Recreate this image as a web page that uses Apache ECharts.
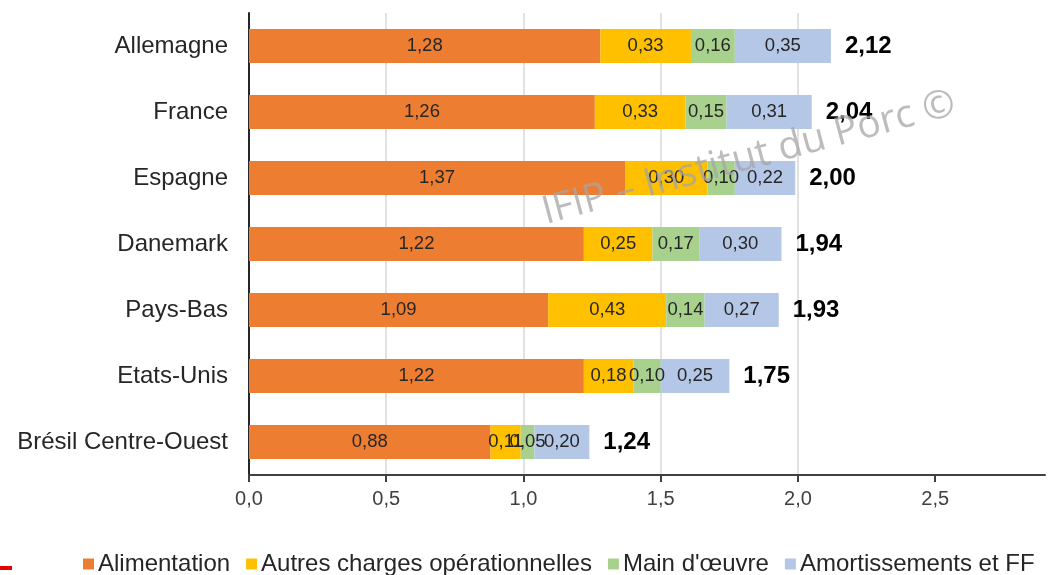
<!DOCTYPE html>
<html>
<head>
<meta charset="utf-8">
<script src="https://cdn.jsdelivr.net/npm/echarts@6/dist/echarts.min.js"></script>
<style>html,body{margin:0;padding:0;background:#fff}#c{width:1056px;height:575px}</style>
</head>
<body>
<div id="c"></div>
<script>
const categories = ['Allemagne','France','Espagne','Danemark','Pays-Bas','Etats-Unis','Brésil Centre-Ouest'];
const alimentation = [1.28, 1.26, 1.37, 1.22, 1.09, 1.22, 0.88];
const autresCharges = [0.33, 0.33, 0.30, 0.25, 0.43, 0.18, 0.11];
const mainOeuvre = [0.16, 0.15, 0.10, 0.17, 0.14, 0.10, 0.05];
const amortissements = [0.35, 0.31, 0.22, 0.30, 0.27, 0.25, 0.20];
const totals = [2.12, 2.04, 2.00, 1.94, 1.93, 1.75, 1.24];
const seriesNames = ['Alimentation', 'Autres charges opérationnelles', "Main d'œuvre", 'Amortissements et FF'];
const tickValues = [0, 0.5, 1.0, 1.5, 2.0, 2.5];

const FONT = '"Liberation Sans", Arial, sans-serif';
const fmt = v => v.toFixed(2).replace('.', ',');
const colors = ['#ED7D31', '#FFC000', '#A9D18E', '#B4C7E7'];

const chart = echarts.init(document.getElementById('c'), null, {renderer: 'canvas'});
const segLabel = {
  show: true, position: 'inside', color: '#262626', fontSize: 18.5, fontFamily: FONT,
  formatter: p => fmt(p.value)
};
const dataSets = [alimentation, autresCharges, mainOeuvre, amortissements];
const series = dataSets.map((d, i) => ({
  name: seriesNames[i], type: 'bar', stack: 'tot', data: d, barWidth: 34,
  itemStyle: {color: colors[i]}, label: segLabel, emphasis: {disabled: true}
}));
series.push({
  name: 'Total', type: 'bar', stack: 'tot', data: totals.map(() => 0), barWidth: 34,
  itemStyle: {color: 'transparent'},
  label: {show: true, position: 'right', distance: 14, color: '#000', fontSize: 24, fontWeight: 'bold',
    fontFamily: FONT, formatter: p => fmt(totals[p.dataIndex])},
  emphasis: {disabled: true}
});

chart.setOption({
  animation: false,
  backgroundColor: '#fff',
  grid: {left: 249, right: 11, top: 13, bottom: 100, containLabel: false},
  legend: {
    data: seriesNames, top: 547, left: 78, itemWidth: 11, itemHeight: 11, itemGap: 16,
    icon: 'rect', textStyle: {fontSize: 24, color: '#262626', fontFamily: FONT, padding: [0, 0, 0, -1]}
  },
  xAxis: {
    type: 'value', min: 0, max: 2.9, interval: 0.5,
    axisLine: {show: true, lineStyle: {color: '#404040', width: 2}},
    axisTick: {show: true, customValues: tickValues, length: 7, lineStyle: {color: '#404040', width: 2}},
    axisLabel: {customValues: tickValues, fontSize: 20, color: '#404040', fontFamily: FONT, margin: 14,
      formatter: v => v.toFixed(1).replace('.', ',')},
    splitLine: {show: true, showMinLine: false, showMaxLine: false, lineStyle: {color: '#d9d9d9', width: 1.5}}
  },
  yAxis: {
    type: 'category', data: categories, inverse: true,
    axisLine: {show: true, lineStyle: {color: '#262626', width: 2}},
    axisTick: {show: false},
    axisLabel: {fontSize: 24, color: '#262626', fontFamily: FONT, margin: 21}
  },
  series: series,
  graphic: [
    {type: 'text', x: 749, y: 158, rotation: 15 * Math.PI / 180,
      style: {text: 'IFIP – Institut du Porc ©', fontSize: 39, fill: 'rgba(165,165,165,0.75)',
        fontFamily: '"Open Sans", "Noto Sans", sans-serif', align: 'center', verticalAlign: 'middle'}, z: 100},
    {type: 'rect', shape: {x: 0, y: 566, width: 12, height: 4}, style: {fill: '#e00000'}}
  ]
});
</script>
</body>
</html>
